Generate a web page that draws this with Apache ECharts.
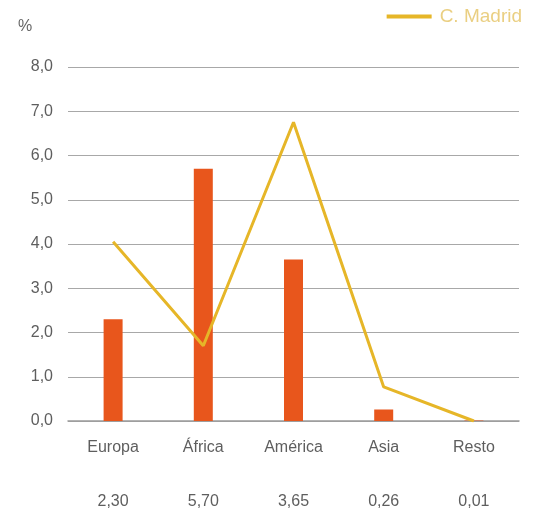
<!DOCTYPE html>
<html><head><meta charset="utf-8">
<script src="https://cdn.jsdelivr.net/npm/echarts@6/dist/echarts.min.js"></script>
<style>html,body{margin:0;padding:0;background:#fff}#c{width:539px;height:513px}</style>
</head><body><div id="c"></div>
<script>
const categories = ["Europa", "África", "América", "Asia", "Resto"];
const barValues = [2.30, 5.70, 3.65, 0.26, 0.01];
const madridValues = [4.05, 1.70, 6.75, 0.77, 0.0];
const valueLabels = ["2,30", "5,70", "3,65", "0,26", "0,01"];
const yTicks = [0, 1, 2, 3, 4, 5, 6, 7, 8];

const chart = echarts.init(document.getElementById('c'));
const font = 'Liberation Sans, Arial, sans-serif';
chart.setOption({
  animation: false,
  textStyle: { fontFamily: font },
  legend: {
    data: [{ name: 'C. Madrid', icon: 'rect' }], right: 12, top: 2,
    itemWidth: 45, itemHeight: 4, itemGap: 6,
    textStyle: { color: '#EACF82', fontSize: 19, fontFamily: font, padding: [0, 0, 0, 3] }
  },
  graphic: [{ type: 'text', left: 18, top: 19, style: { text: '%', fontSize: 16, fill: '#666', fontFamily: font } }],
  grid: { left: 68, right: 20, top: 67, bottom: 92 },
  xAxis: [{
    type: 'category', data: categories, position: 'bottom',
    axisLine: { show: true, lineStyle: { color: '#9a9a9a', width: 1.5 } },
    axisTick: { show: false },
    axisLabel: { color: '#5e5e5e', fontSize: 16, margin: 19 }
  }, {
    type: 'category', data: valueLabels, position: 'bottom', offset: 73,
    axisLine: { show: false }, axisTick: { show: false },
    axisLabel: { color: '#5e5e5e', fontSize: 16, margin: 0 }
  }],
  yAxis: {
    type: 'value', min: yTicks[0], max: yTicks[yTicks.length - 1], interval: 1,
    axisLine: { show: false }, axisTick: { show: false },
    axisLabel: { color: '#5e5e5e', fontSize: 16, margin: 15,
      formatter: v => v.toFixed(1).replace('.', ',') },
    splitLine: { lineStyle: { color: '#a8a8a8', width: 1.2 } }
  },
  series: [{
    name: 'Bars', type: 'bar', data: barValues, barWidth: 19, xAxisIndex: 0,
    itemStyle: { color: '#E8561C' }
  }, {
    name: 'C. Madrid', type: 'line', data: madridValues, xAxisIndex: 0,
    symbol: 'none', lineStyle: { color: '#E6B628', width: 3 },
    itemStyle: { color: '#E6B628' }
  }]
});
</script></body></html>
